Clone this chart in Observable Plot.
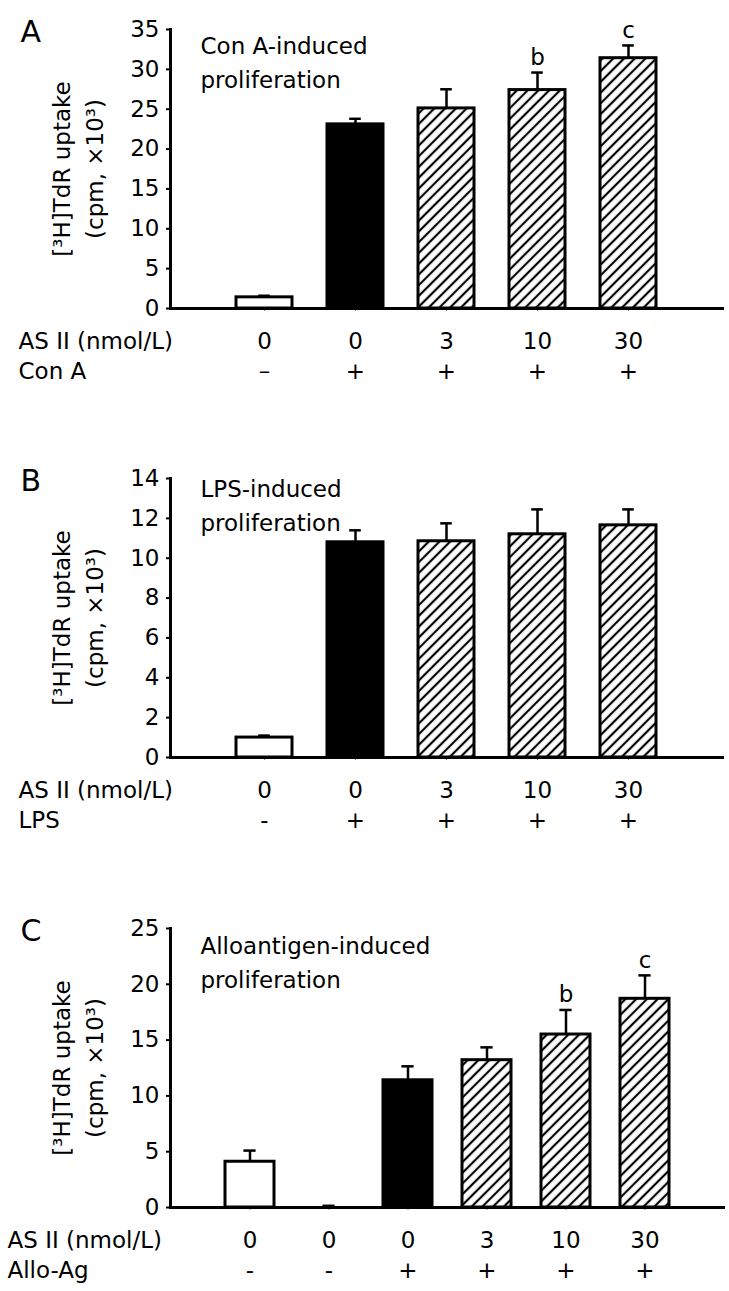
<!DOCTYPE html>
<html><head><meta charset="utf-8">
<script src="https://cdn.jsdelivr.net/npm/d3@7"></script>
<script src="https://cdn.jsdelivr.net/npm/@observablehq/plot@0.6"></script>
<style>
body{margin:0;background:#fff;}
#chart svg{display:block}
</style></head><body><div id="chart"></div>
<script>
// ---------- Panel A: Con A ----------
const aKeys = ["a1","a2","a3","a4","a5"];
const aDose = ["0","0","3","10","30"];
const aStim = ["–","+","+","+","+"];
const aType = ["open","solid","hatch","hatch","hatch"];
const aMean = [1.4, 23.1, 25.1, 27.4, 31.4];
const aErr  = [0.2, 0.7, 2.4, 2.2, 1.6];
const aSig  = ["","","","b","c"];
const aTicks = [0,5,10,15,20,25,30,35];

// ---------- Panel B: LPS ----------
const bKeys = ["b1","b2","b3","b4","b5"];
const bDose = ["0","0","3","10","30"];
const bStim = ["-","+","+","+","+"];
const bType = ["open","solid","hatch","hatch","hatch"];
const bMean = [1.0, 10.8, 10.85, 11.2, 11.65];
const bErr  = [0.1, 0.6, 0.9, 1.25, 0.8];
const bSig  = ["","","","",""];
const bTicks = [0,2,4,6,8,10,12,14];

// ---------- Panel C: Alloantigen ----------
const cKeys = ["c1","c2","c3","c4","c5","c6"];
const cDose = ["0","0","0","3","10","30"];
const cStim = ["-","-","+","+","+","+"];
const cType = ["open","open","solid","hatch","hatch","hatch"];
const cMean = [4.1, 0, 11.4, 13.2, 15.5, 18.7];
const cErr  = [1.0, 0.15, 1.25, 1.15, 2.2, 2.1];
const cSig  = ["","","","","b","c"];
const cTicks = [0,5,10,15,20,25];

const FONT = "DejaVu Sans";
const FS = 23;
const W = 729, ML = 170, MT = 29, FH = 279;

function panel(o) {
  const rows = o.keys.map((k, i) => ({key: k, dose: o.dose[i], stim: o.stim[i], type: o.type[i],
    mean: o.mean[i], hi: o.mean[i] + o.err[i], sig: o.sig[i]}));
  const n = o.keys.length;
  const pi = 0.385;
  const range = W - ML - o.mr;
  const step = range / (n - pi + 2 * o.po);
  const bw = step * (1 - pi);
  const capInset = (bw - 12) / 2;
  const yMax = o.ticks[o.ticks.length - 1];
  const hatchId = "hatch-" + o.id;
  const defs = () => {
    const d = d3.create("svg:defs");
    const p = d.append("pattern").attr("id", hatchId).attr("patternUnits", "userSpaceOnUse")
      .attr("width", 7.6).attr("height", 7.6).attr("patternTransform", "rotate(45)");
    p.append("rect").attr("width", 7.6).attr("height", 7.6).attr("fill", "white");
    p.append("line").attr("x1", 3.8).attr("y1", -1).attr("x2", 3.8).attr("y2", 8.6)
      .attr("stroke", "black").attr("stroke-width", 2.2);
    return d.node();
  };
  return Plot.plot({
    width: W, height: o.height,
    marginLeft: ML, marginRight: o.mr, marginTop: MT, marginBottom: o.height - MT - FH,
    style: {fontFamily: FONT, fontSize: FS + "px", color: "#000", background: "#fff", overflow: "visible"},
    x: {type: "band", domain: o.keys, paddingInner: pi, paddingOuter: o.po, axis: null},
    y: {domain: [0, yMax], axis: null},
    marks: [
      defs,
      Plot.axisY({ticks: o.ticks, tickSize: 4, tickPadding: 7, label: null, fontSize: FS, strokeWidth: 2}),
      Plot.axisX({tickSize: 3, tickFormat: () => "", label: null, strokeOpacity: 0.5}),
      Plot.barY(rows.filter(d => d.type === "open"), {x: "key", y: "mean", fill: "white", stroke: "black", strokeWidth: 3}),
      Plot.barY(rows.filter(d => d.type === "solid"), {x: "key", y: "mean", fill: "black", stroke: "black", strokeWidth: 3}),
      Plot.barY(rows.filter(d => d.type === "hatch"), {x: "key", y: "mean", fill: `url(#${hatchId})`, stroke: "black", strokeWidth: 3}),
      Plot.ruleX(rows, {x: "key", y1: "mean", y2: "hi", strokeWidth: 2.5}),
      Plot.tickY(rows, {x: "key", y: "hi", insetLeft: capInset, insetRight: capInset, strokeWidth: 2.5}),
      Plot.text(rows, {x: "key", y: "hi", text: "sig", dy: -15, fontSize: FS, lineAnchor: "middle"}),
      Plot.frame({anchor: "left", strokeWidth: 3}),
      Plot.frame({anchor: "bottom", strokeWidth: 3}),
      // category rows
      Plot.text(rows, {x: "key", text: "dose", frameAnchor: "bottom", lineAnchor: "middle", dy: 33, fontSize: FS}),
      Plot.text(rows, {x: "key", text: "stim", frameAnchor: "bottom", lineAnchor: "middle", dy: 63, fontSize: FS}),
      Plot.text(["AS II (nmol/L)"], {text: d => d, frameAnchor: "bottom-left", textAnchor: "start", lineAnchor: "middle", dx: o.rowX - ML, dy: 33, fontSize: FS}),
      Plot.text([o.stimLabel], {text: d => d, frameAnchor: "bottom-left", textAnchor: "start", lineAnchor: "middle", dx: o.rowX - ML, dy: 63, fontSize: FS}),
      // annotation
      Plot.text([o.title], {text: d => d, frameAnchor: "top-left", textAnchor: "start", lineAnchor: "top", dx: 30, dy: o.titleDy, fontSize: FS, lineHeight: 1.5}),
      // panel letter
      Plot.text([o.letter], {text: d => d, frameAnchor: "top-left", textAnchor: "start", lineAnchor: "middle", dx: 20 - ML, dy: 3, fontSize: 30}),
      // y title
      Plot.text(["[³H]TdR uptake"], {text: d => d, frameAnchor: "left", rotate: -90, textAnchor: "middle", lineAnchor: "middle", dx: 62 - ML, fontSize: FS}),
      Plot.text(["(cpm, ×10³)"], {text: d => d, frameAnchor: "left", rotate: -90, textAnchor: "middle", lineAnchor: "middle", dx: 95 - ML, fontSize: FS})
    ]
  });
}

const chart = document.getElementById("chart");
chart.append(panel({id: "A", letter: "A", title: "Con A-induced\nproliferation", stimLabel: "Con A",
  keys: aKeys, dose: aDose, stim: aStim, type: aType, mean: aMean, err: aErr, sig: aSig, ticks: aTicks,
  height: 449, mr: 7, po: 0.7, rowX: 18, titleDy: 0}));
chart.append(panel({id: "B", letter: "B", title: "LPS-induced\nproliferation", stimLabel: "LPS",
  keys: bKeys, dose: bDose, stim: bStim, type: bType, mean: bMean, err: bErr, sig: bSig, ticks: bTicks,
  height: 450, mr: 7, po: 0.7, rowX: 18, titleDy: -6}));
chart.append(panel({id: "C", letter: "C", title: "Alloantigen-induced\nproliferation", stimLabel: "Allo-Ag",
  keys: cKeys, dose: cDose, stim: cStim, type: cType, mean: cMean, err: cErr, sig: cSig, ticks: cTicks,
  height: 392, mr: 6, po: 0.68, rowX: 7, titleDy: 1}));
</script></body></html>
